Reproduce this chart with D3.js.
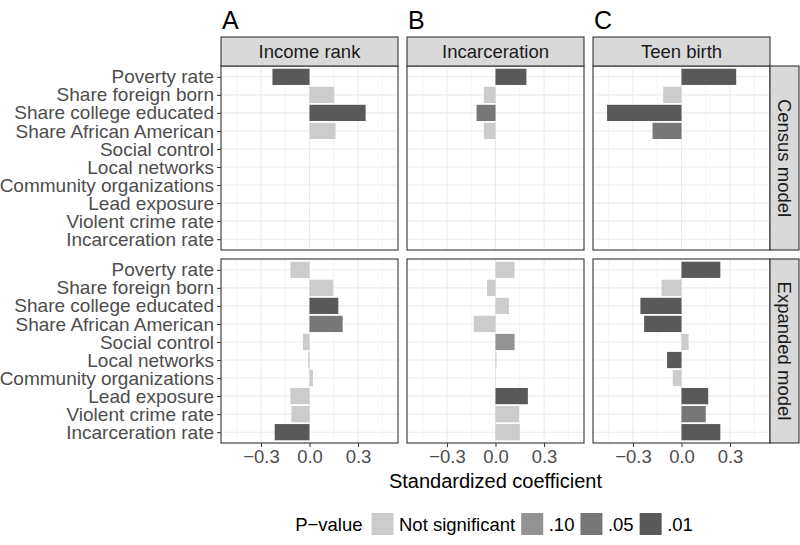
<!DOCTYPE html>
<html>
<head>
<meta charset="utf-8">
<script src="https://cdn.jsdelivr.net/npm/d3@7"></script>
<style>
  html, body { margin: 0; padding: 0; background: #fff; }
  svg { display: block; font-family: "Liberation Sans", Arial, Helvetica, sans-serif; }
</style>
</head>
<body>
<svg id="chart" width="800" height="545"></svg>
<script>
// ---------------- DATA ----------------
const categories = ["Poverty rate", "Share foreign born", "Share college educated", "Share African American",
  "Social control", "Local networks", "Community organizations", "Lead exposure",
  "Violent crime rate", "Incarceration rate"];
const outcomes = ["Income rank", "Incarceration", "Teen birth"];
const panelLetters = ["A", "B", "C"];
const models = ["Census model", "Expanded model"];
const pLevels = ["Not significant", ".10", ".05", ".01"];
const pColors = ["#cccccc", "#939393", "#777777", "#595959"];
const xTicks = [-0.3, 0, 0.3];
const xMinor = [-0.45, -0.15, 0.15, 0.45];

// Standardized coefficients (null = not in model); significance codes: 0=NS,1=.10,2=.05,3=.01
const incomeCensus     = [-0.229, 0.153, 0.347, 0.161, null, null, null, null, null, null];
const incomeCensusP    = [3, 0, 3, 0, null, null, null, null, null, null];
const incomeExpanded   = [-0.118, 0.147, 0.178, 0.205, -0.041, -0.008, 0.021, -0.118, -0.112, -0.215];
const incomeExpandedP  = [0, 0, 3, 2, 0, 0, 0, 0, 0, 3];
const incarCensus      = [0.191, -0.072, -0.117, -0.072, null, null, null, null, null, null];
const incarCensusP     = [3, 0, 2, 0, null, null, null, null, null, null];
const incarExpanded    = [0.118, -0.052, 0.083, -0.134, 0.118, 0.006, 0.002, 0.200, 0.146, 0.150];
const incarExpandedP   = [0, 0, 0, 0, 1, 0, 0, 3, 0, 0];
const teenCensus       = [0.338, -0.113, -0.460, -0.179, null, null, null, null, null, null];
const teenCensusP      = [3, 0, 3, 2, null, null, null, null, null, null];
const teenExpanded     = [0.240, -0.123, -0.254, -0.231, 0.044, -0.089, -0.054, 0.165, 0.150, 0.240];
const teenExpandedP    = [3, 0, 3, 3, 0, 3, 0, 3, 2, 3];

const panelData = [
  [[incomeCensus, incomeCensusP], [incarCensus, incarCensusP], [teenCensus, teenCensusP]],
  [[incomeExpanded, incomeExpandedP], [incarExpanded, incarExpandedP], [teenExpanded, teenExpandedP]]
];

// ---------------- LAYOUT ----------------
const svg = d3.select("#chart");
const colX = [221, 407, 593];
const panelW = 177;
const rowY = [66, 259];
const panelH = 184;
const stripH = 29;
const stripW = 29;
const xDomain = [-0.547, 0.547];
const fontSize = 18.5;
const yLabSize = 19;
const tickCol = "#4d4d4d";
const borderCol = "#333333";

const y = d3.scalePoint().domain(categories).range([0, panelH]).padding(0.6);
const bandH = y.step() * 0.9;

for (let r = 0; r < 2; r++) {
  for (let c = 0; c < 3; c++) {
    const x0 = colX[c], y0 = rowY[r];
    const x = d3.scaleLinear().domain(xDomain).range([x0, x0 + panelW]);
    const g = svg.append("g");
    g.append("rect").attr("x", x0).attr("y", y0).attr("width", panelW).attr("height", panelH).attr("fill", "#fff");
    g.selectAll(".minor").data(xMinor).enter().append("line")
      .attr("x1", d => x(d)).attr("x2", d => x(d)).attr("y1", y0).attr("y2", y0 + panelH)
      .attr("stroke", "#ebebeb").attr("stroke-width", 0.6);
    g.selectAll(".majorx").data(xTicks).enter().append("line")
      .attr("x1", d => x(d)).attr("x2", d => x(d)).attr("y1", y0).attr("y2", y0 + panelH)
      .attr("stroke", "#ebebeb").attr("stroke-width", 1.1);
    g.selectAll(".majory").data(categories).enter().append("line")
      .attr("x1", x0).attr("x2", x0 + panelW).attr("y1", d => y0 + y(d)).attr("y2", d => y0 + y(d))
      .attr("stroke", "#ebebeb").attr("stroke-width", 1.1);
    const [vals, ps] = panelData[r][c];
    const rows = categories.map((cat, i) => ({ cat, v: vals[i], p: ps[i] })).filter(d => d.v !== null);
    g.selectAll(".bar").data(rows).enter().append("rect")
      .attr("x", d => Math.min(x(0), x(d.v)))
      .attr("width", d => Math.abs(x(d.v) - x(0)))
      .attr("y", d => y0 + y(d.cat) - bandH / 2)
      .attr("height", bandH)
      .attr("fill", d => pColors[d.p]);
    g.append("rect").attr("x", x0).attr("y", y0).attr("width", panelW).attr("height", panelH)
      .attr("fill", "none").attr("stroke", borderCol).attr("stroke-width", 1.1);

    if (c === 0) {
      const ay = d3.axisLeft(d3.scalePoint().domain(categories).range([y0, y0 + panelH]).padding(0.6))
        .tickSize(4).tickPadding(3);
      const axg = svg.append("g").attr("transform", `translate(${x0},0)`).call(ay);
      axg.select(".domain").remove();
      axg.selectAll("line").attr("stroke", borderCol);
      axg.selectAll("text").attr("fill", tickCol).style("font-size", yLabSize + "px")
        .style("font-family", '"Liberation Sans", Arial, sans-serif');
    }
    if (r === 1) {
      const ax = d3.axisBottom(x).tickValues(xTicks).tickSize(4).tickPadding(3)
        .tickFormat(d => (d < 0 ? "\u2212" : "") + d3.format(".1f")(Math.abs(d)));
      const axg = svg.append("g").attr("transform", `translate(0,${y0 + panelH})`).call(ax);
      axg.select(".domain").remove();
      axg.selectAll("line").attr("stroke", borderCol);
      axg.selectAll("text").attr("fill", tickCol).style("font-size", fontSize + "px")
        .style("font-family", '"Liberation Sans", Arial, sans-serif');
    }
    if (r === 0) {
      svg.append("rect").attr("x", x0).attr("y", y0 - stripH).attr("width", panelW).attr("height", stripH)
        .attr("fill", "#d9d9d9").attr("stroke", borderCol).attr("stroke-width", 1.1);
      svg.append("text").attr("x", x0 + panelW / 2).attr("y", y0 - stripH / 2)
        .attr("text-anchor", "middle").attr("dominant-baseline", "central")
        .attr("fill", "#1a1a1a").style("font-size", fontSize + "px").text(outcomes[c]);
      svg.append("text").attr("x", x0 + 1).attr("y", 29)
        .attr("fill", "#000").style("font-size", "25px").text(panelLetters[c]);
    }
    if (c === 2) {
      const sx = x0 + panelW;
      svg.append("rect").attr("x", sx).attr("y", y0).attr("width", stripW).attr("height", panelH)
        .attr("fill", "#d9d9d9").attr("stroke", borderCol).attr("stroke-width", 1.1);
      svg.append("text").attr("transform", `translate(${sx + stripW / 2},${y0 + panelH / 2}) rotate(90)`)
        .attr("text-anchor", "middle").attr("dominant-baseline", "central")
        .attr("fill", "#1a1a1a").style("font-size", fontSize + "px").text(models[r]);
    }
  }
}

svg.append("text").attr("x", (colX[0] + colX[2] + panelW) / 2).attr("y", 488)
  .attr("text-anchor", "middle").attr("fill", "#000").style("font-size", "20px")
  .text("Standardized coefficient");

const lg = svg.append("g");
const legY = 524;
const boxS = 22;
let cx = 0;
const title = lg.append("text").attr("x", cx).attr("y", legY).attr("dominant-baseline", "central")
  .style("font-size", fontSize + "px").attr("fill", "#000").text("P\u2212value");
cx += title.node().getComputedTextLength() + 9;
pLevels.forEach((lvl, i) => {
  lg.append("rect").attr("x", cx).attr("y", legY - boxS / 2).attr("width", boxS).attr("height", boxS)
    .attr("fill", pColors[i]);
  cx += boxS + 5.5;
  const t = lg.append("text").attr("x", cx).attr("y", legY).attr("dominant-baseline", "central")
    .style("font-size", fontSize + "px").attr("fill", "#000").text(lvl);
  cx += t.node().getComputedTextLength() + 6;
});
const legW = cx - 6;
lg.attr("transform", `translate(${494 - legW / 2},0)`);
</script>
</body>
</html>
